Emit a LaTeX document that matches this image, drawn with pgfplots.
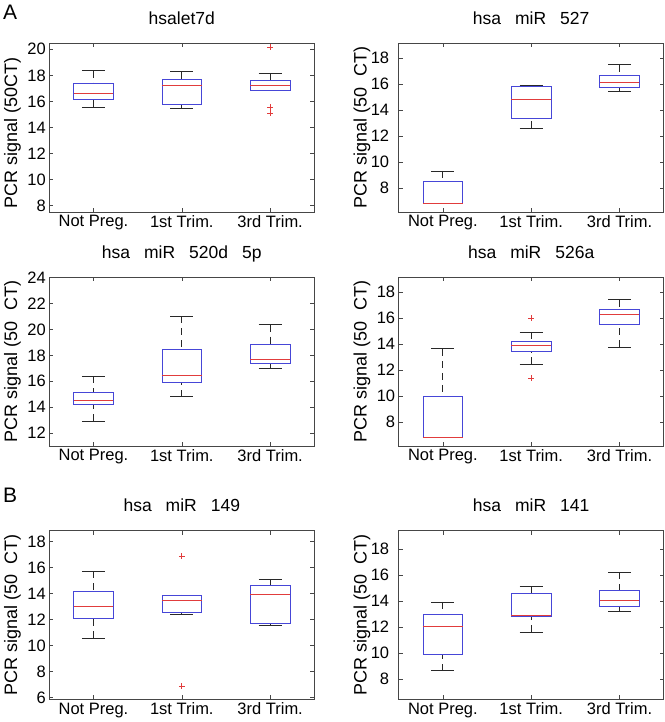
\documentclass[border=0pt]{standalone}
\usepackage{fontspec}
\setmainfont{Liberation Sans}
\usepackage{pgfplots}
\pgfplotsset{compat=1.18}
\usepgfplotslibrary{statistics}
\definecolor{boxblue}{RGB}{70,70,215}
\definecolor{medred}{RGB}{225,60,60}
\definecolor{whisk}{RGB}{40,40,40}
\definecolor{framec}{RGB}{70,70,70}
\newcommand{\gap}{\hspace{0.8em}}
\pgfplotsset{
  panel/.style={
    scale only axis, width=265pt, height=168.7pt,
    xmin=0.5, xmax=3.5, xtick={1,2,3},
    xticklabels={Not Preg., 1st Trim., 3rd Trim.},
    tick align=inside, tick pos=both, major tick length=4pt,
    axis line style={draw=framec, line width=0.6pt},
    every tick/.style={draw=framec, line width=0.6pt},
    /pgf/number format/assume math mode=true,
    ticklabel style={font=\fontsize{16.5}{18}\selectfont, text=black},
    title style={font=\fontsize{17.5}{20}\selectfont, anchor=base, at={(axis description cs:0.5,1)}, yshift=13pt},
    ylabel style={font=\fontsize{18}{20}\selectfont, at={(axis description cs:-0.1390,0.5)}, anchor=center},
    boxplot/draw direction=y,
    boxplot/box extend=0.45,
    boxplot/whisker extend=0.26,
    boxplot/every median/.style={draw=medred, line width=0.7pt},
    boxplot/every box/.style={draw=boxblue, line width=0.8pt},
    boxplot/draw/lower whisker/.code={%
      \draw[whisk, line width=0.8pt, dash pattern=on 7pt off 5pt]
        (boxplot box cs:\pgfplotsboxplotvalue{lower whisker},0.5) --
        (boxplot box cs:\pgfplotsboxplotvalue{lower quartile},0.5);
      \draw[whisk, line width=0.8pt]
        (boxplot whisker cs:\pgfplotsboxplotvalue{lower whisker},0) --
        (boxplot whisker cs:\pgfplotsboxplotvalue{lower whisker},1);
    },
    boxplot/draw/upper whisker/.code={%
      \draw[whisk, line width=0.8pt, dash pattern=on 7pt off 5pt]
        (boxplot box cs:\pgfplotsboxplotvalue{upper whisker},0.5) --
        (boxplot box cs:\pgfplotsboxplotvalue{upper quartile},0.5);
      \draw[whisk, line width=0.8pt]
        (boxplot whisker cs:\pgfplotsboxplotvalue{upper whisker},0) --
        (boxplot whisker cs:\pgfplotsboxplotvalue{upper whisker},1);
    },
  },
  outl/.style={only marks, mark=+, mark size=3pt, draw=medred, mark options={line width=0.7pt}},
}
\begin{document}
\begin{tikzpicture}
% ---------- Panel 1 ----------
\begin{axis}[panel, at={(49.3pt,510pt)}, anchor=south west,
  ymin=7.52, ymax=20.46, ytick={8,10,...,20},
  ylabel style={at={(axis description cs:-0.1390,0.47)}},
  title={hsalet7d}, ylabel={PCR signal (50CT)}]
\addplot[draw=boxblue, boxplot prepared={draw position=1, lower whisker=15.58, lower quartile=16.17, median=16.60, upper quartile=17.37, upper whisker=18.37}] coordinates {};
\addplot[draw=boxblue, boxplot prepared={draw position=2, lower whisker=15.46, lower quartile=15.76, median=17.22, upper quartile=17.68, upper whisker=18.29}] coordinates {};
\addplot[draw=boxblue, boxplot prepared={draw position=3, lower whisker=16.86, lower quartile=16.86, median=17.22, upper quartile=17.63, upper whisker=18.14}] coordinates {};
\addplot[outl] coordinates {(3,20.15) (3,15.58) (3,15.12)};
\end{axis}
% ---------- Panel 2 ----------
\begin{axis}[panel, at={(398.7pt,510pt)}, anchor=south west,
  ymin=6.15, ymax=19.13, ytick={8,10,...,18},
  yticklabel style={xshift=-6pt},
  title={hsa\gap miR\gap 527}, ylabel={PCR signal (50\hspace{0.6em}CT)}]
\addplot[draw=boxblue, boxplot prepared={draw position=1, lower whisker=6.84, lower quartile=6.84, median=6.84, upper quartile=8.54, upper whisker=9.31}] coordinates {};
\addplot[draw=boxblue, boxplot prepared={draw position=2, lower whisker=12.58, lower quartile=13.35, median=14.84, upper quartile=15.81, upper whisker=15.89}] coordinates {};
\addplot[draw=boxblue, boxplot prepared={draw position=3, lower whisker=15.46, lower quartile=15.71, median=16.12, upper quartile=16.66, upper whisker=17.49}] coordinates {};
\end{axis}
% ---------- Panel 3 ----------
\begin{axis}[panel, at={(49.3pt,276pt)}, anchor=south west,
  ymin=11.0, ymax=24.03, ytick={12,14,...,24},
  title={hsa\gap miR\gap 520d\gap 5p}, ylabel={PCR signal (50\hspace{0.6em}CT)}]
\addplot[draw=boxblue, boxplot prepared={draw position=1, lower whisker=12.93, lower quartile=14.21, median=14.52, upper quartile=15.11, upper whisker=16.37}] coordinates {};
\addplot[draw=boxblue, boxplot prepared={draw position=2, lower whisker=14.80, lower quartile=15.88, median=16.42, upper quartile=18.48, upper whisker=21.02}] coordinates {};
\addplot[draw=boxblue, boxplot prepared={draw position=3, lower whisker=16.96, lower quartile=17.37, median=17.66, upper quartile=18.81, upper whisker=20.38}] coordinates {};
\end{axis}
% ---------- Panel 4 ----------
\begin{axis}[panel, at={(398.7pt,276pt)}, anchor=south west,
  ymin=6.14, ymax=19.13, ytick={8,10,...,18},
  title={hsa\gap miR\gap 526a}, ylabel={PCR signal (50\hspace{0.6em}CT)}]
\addplot[draw=boxblue, boxplot prepared={draw position=1, lower whisker=6.81, lower quartile=6.81, median=6.81, upper quartile=9.98, upper whisker=13.62}] coordinates {};
\addplot[draw=boxblue, boxplot prepared={draw position=2, lower whisker=12.46, lower quartile=13.39, median=13.88, upper quartile=14.21, upper whisker=14.88}] coordinates {};
\addplot[draw=boxblue, boxplot prepared={draw position=3, lower whisker=13.77, lower quartile=15.47, median=16.30, upper quartile=16.69, upper whisker=17.41}] coordinates {};
\addplot[outl] coordinates {(2,15.96) (2,11.35)};
\end{axis}
% ---------- Panel 5 ----------
\begin{axis}[panel, at={(49.3pt,22.7pt)}, anchor=south west,
  ymin=5.87, ymax=18.85, ytick={6,8,...,18},
  title={hsa\gap miR\gap 149}, ylabel={PCR signal (50\hspace{0.6em}CT)}]
\addplot[draw=boxblue, boxplot prepared={draw position=1, lower whisker=10.59, lower quartile=12.08, median=13.00, upper quartile=14.15, upper whisker=15.74}] coordinates {};
\addplot[draw=boxblue, boxplot prepared={draw position=2, lower whisker=12.41, lower quartile=12.54, median=13.49, upper quartile=13.85, upper whisker=13.90}] coordinates {};
\addplot[draw=boxblue, boxplot prepared={draw position=3, lower whisker=11.59, lower quartile=11.72, median=13.95, upper quartile=14.62, upper whisker=15.10}] coordinates {};
\addplot[outl] coordinates {(2,16.87) (2,6.87)};
\end{axis}
% ---------- Panel 6 ----------
\begin{axis}[panel, at={(398.7pt,22.7pt)}, anchor=south west,
  ymin=6.43, ymax=19.44, ytick={8,10,...,18},
  yticklabel style={xshift=-6pt},
  title={hsa\gap miR\gap 141}, ylabel={PCR signal (50\hspace{0.6em}CT)}]
\addplot[draw=boxblue, boxplot prepared={draw position=1, lower whisker=8.64, lower quartile=9.88, median=12.09, upper quartile=12.96, upper whisker=13.94}] coordinates {};
\addplot[draw=boxblue, boxplot prepared={draw position=2, lower whisker=11.62, lower quartile=12.83, median=12.91, upper quartile=14.56, upper whisker=15.10}] coordinates {};
\addplot[draw=boxblue, boxplot prepared={draw position=3, lower whisker=13.22, lower quartile=13.60, median=14.07, upper quartile=14.81, upper whisker=16.23}] coordinates {};
\end{axis}
% panel letters
\node[anchor=base west, inner sep=0pt, font=\fontsize{21}{24}\selectfont] at (3pt,702pt) {A};
\node[anchor=base west, inner sep=0pt, font=\fontsize{21}{24}\selectfont] at (3pt,219pt) {B};
\pgfresetboundingbox
\path[use as bounding box] (0,0) rectangle (664pt,722pt);
\end{tikzpicture}
\end{document}
